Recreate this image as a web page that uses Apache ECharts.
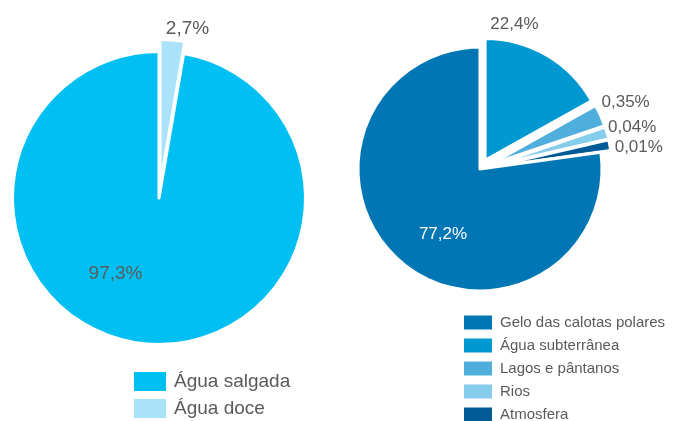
<!DOCTYPE html>
<html>
<head>
<meta charset="utf-8">
<script src="https://cdn.jsdelivr.net/npm/echarts@6/dist/echarts.min.js"></script>
<style>
  html, body { margin: 0; padding: 0; background: #fff; }
  #chart { width: 682px; height: 421px; }
</style>
</head>
<body>
<div id="chart"></div>
<script>
// agua no planeta
var waterKinds = ['Água salgada', 'Água doce'];
var waterShare = [97.3, 2.7];
var waterColors = ['#00bff2', '#a9e2f9'];

// agua doce
var freshKinds = ['Gelo das calotas polares', 'Água subterrânea', 'Lagos e pântanos', 'Rios', 'Atmosfera'];
var freshShare = [77.2, 22.4, 0.35, 0.04, 0.01];
// the picture does not draw the small ones to scale, these are the slice sizes as drawn
var freshArc = [77.2, 16.9, 2.9, 1.6, 1.4];
var freshColors = ['#0077b4', '#0098d0', '#4faedb', '#85cdeb', '#005a96'];

// clockwise from 12 o'clock
var waterOrder = [1, 0];
var freshOrder = [1, 2, 3, 4, 0];

var FONT = 'Liberation Sans';
var GREY = '#5a5a5a';

// small nudges of the labels from the slice middle
var waterLabelShift = { 'Água doce': [21, -81], 'Água salgada': [-37, 0] };
var freshLabelShift = {
	'Água subterrânea': [-3, -81],
	'Lagos e pântanos': [78, -37],
	'Rios': [81, -21],
	'Atmosfera': [86, -8],
	'Gelo das calotas polares': [5, 17]
};

var pct = function (v) {
	return String(v).replace('.', ',') + '%';
};

var chart = echarts.init(document.getElementById('chart'));

var waterData = waterOrder.map(function (i) {
	return {
		name : waterKinds[i],
		value : waterShare[i],
		selected : i === 1,
		itemStyle : { color : waterColors[i] },
		label : { color : GREY }
	};
});

var freshData = freshOrder.map(function (i) {
	return {
		name : freshKinds[i],
		value : freshArc[i],
		selected : i !== 0,
		itemStyle : { color : freshColors[i] },
		label : {
			color : i === 0 ? '#ffffff' : GREY,
			formatter : pct(freshShare[i])
		}
	};
});

var shiftFor = function (list, table) {
	return function (p) {
		var s = table[list[p.dataIndex].name] || [0, 0];
		return { dx : s[0], dy : s[1] };
	};
};

var option = {
	animation : false,
	legend : [ {
		data : waterKinds,
		orient : 'vertical',
		left : 129,
		top : 367,
		height : 200,
		itemWidth : 32,
		itemHeight : 19,
		itemGap : 8,
		icon : 'rect',
		itemStyle : { borderWidth : 0 },
		selectedMode : false,
		textStyle : { fontFamily : FONT, fontSize : 19, color : GREY, padding : [0, 0, 0, 3] }
	}, {
		data : freshKinds,
		orient : 'vertical',
		left : 459,
		top : 310,
		height : 300,
		itemWidth : 28,
		itemHeight : 14,
		itemGap : 8,
		icon : 'rect',
		itemStyle : { borderWidth : 0 },
		selectedMode : false,
		textStyle : { fontFamily : FONT, fontSize : 15, color : GREY, padding : [4, 0, 0, 3] }
	} ],
	series : [ {
		type : 'pie',
		center : [159, 198],
		radius : [0, 146.5],
		startAngle : 90,
		clockwise : true,
		selectedMode : 'multiple',
		selectedOffset : 12,
		emphasis : { disabled : true },
		itemStyle : { borderColor : '#fff', borderWidth : 3 },
		select : { itemStyle : { borderColor : '#fff', borderWidth : 3 } },
		label : {
			show : true,
			position : 'inside',
			fontFamily : FONT,
			fontSize : 19,
			formatter : function (p) { return pct(p.value); }
		},
		labelLine : { show : false },
		labelLayout : shiftFor(waterData, waterLabelShift),
		data : waterData
	}, {
		type : 'pie',
		center : [480, 169],
		radius : [0, 122],
		startAngle : 90,
		clockwise : true,
		selectedMode : 'multiple',
		selectedOffset : 10,
		emphasis : { disabled : true },
		itemStyle : { borderColor : '#fff', borderWidth : 3 },
		select : { itemStyle : { borderColor : '#fff', borderWidth : 3 } },
		label : {
			show : true,
			position : 'inside',
			fontFamily : FONT,
			fontSize : 17
		},
		labelLine : { show : false },
		labelLayout : shiftFor(freshData, freshLabelShift),
		data : freshData
	} ]
};
chart.setOption(option);
</script>
</body>
</html>
